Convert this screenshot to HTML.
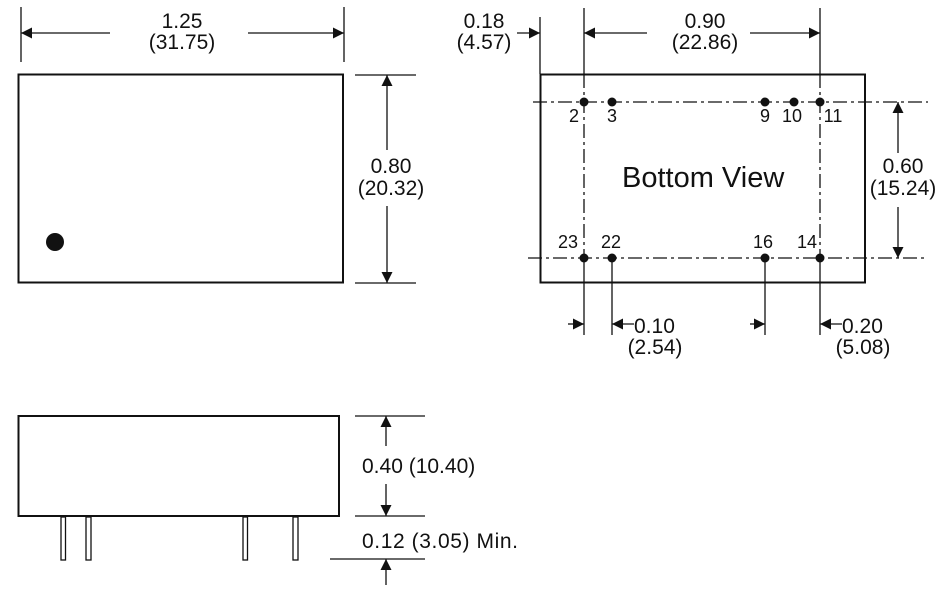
<!DOCTYPE html>
<html><head><style>
body{margin:0;background:#fff;}
svg{display:block;}
text{font-family:"Liberation Sans",Arial,sans-serif;fill:#111;}
</style></head><body>
<svg width="945" height="595" viewBox="0 0 945 595" xmlns="http://www.w3.org/2000/svg">
<defs>
<marker id="a" viewBox="0 0 10 10" refX="10" refY="5" markerWidth="13" markerHeight="11" markerUnits="userSpaceOnUse" orient="auto"><path d="M0,0L10,5L0,10z" fill="#111"/></marker>
</defs>
<g stroke="#111" stroke-width="1.3" fill="none">
<rect x="18.5" y="74.5" width="324.5" height="208" stroke-width="2"/>
<line x1="21" y1="7" x2="21" y2="62"/><line x1="344" y1="7" x2="344" y2="62"/>
<line x1="110" y1="33" x2="21" y2="33" marker-end="url(#a)"/>
<line x1="248" y1="33" x2="344" y2="33" marker-end="url(#a)"/>
<line x1="355" y1="75" x2="416" y2="75"/><line x1="355" y1="283" x2="416" y2="283"/>
<line x1="387" y1="150" x2="387" y2="75" marker-end="url(#a)"/>
<line x1="387" y1="206" x2="387" y2="283" marker-end="url(#a)"/>
<rect x="540.5" y="74.5" width="324.5" height="208" stroke-width="2"/>
<line x1="540" y1="17" x2="540" y2="74"/>
<line x1="517" y1="33" x2="540" y2="33" marker-end="url(#a)"/>
<line x1="584" y1="8" x2="584" y2="74"/><line x1="820" y1="8" x2="820" y2="74"/>
<line x1="647" y1="33" x2="584" y2="33" marker-end="url(#a)"/>
<line x1="750" y1="33" x2="820" y2="33" marker-end="url(#a)"/>
<g stroke-dasharray="14,4,3,4">
<line x1="533" y1="102" x2="928" y2="102"/>
<line x1="528" y1="258" x2="928" y2="258"/>
<line x1="584" y1="74" x2="584" y2="258"/>
<line x1="820" y1="74" x2="820" y2="258"/>
</g>
<line x1="584" y1="258" x2="584" y2="335"/><line x1="612" y1="258" x2="612" y2="335"/>
<line x1="765" y1="258" x2="765" y2="335"/><line x1="820" y1="258" x2="820" y2="335"/>
<line x1="898" y1="153" x2="898" y2="102" marker-end="url(#a)"/>
<line x1="898" y1="207" x2="898" y2="258" marker-end="url(#a)"/>
<line x1="568" y1="324" x2="584" y2="324" marker-end="url(#a)"/>
<line x1="634" y1="324" x2="612" y2="324" marker-end="url(#a)"/>
<line x1="750" y1="324" x2="765" y2="324" marker-end="url(#a)"/>
<line x1="842" y1="324" x2="820" y2="324" marker-end="url(#a)"/>
<rect x="18.5" y="416" width="320.5" height="100" stroke-width="2"/>
<rect x="61" y="517" width="4.5" height="43"/><rect x="86" y="517" width="5" height="43"/>
<rect x="243" y="517" width="4.5" height="43"/><rect x="293" y="517" width="5" height="43"/>
<line x1="355" y1="416" x2="425" y2="416"/><line x1="355" y1="516" x2="425" y2="516"/>
<line x1="330" y1="559" x2="425" y2="559"/>
<line x1="386" y1="446" x2="386" y2="416" marker-end="url(#a)"/>
<line x1="386" y1="484" x2="386" y2="516" marker-end="url(#a)"/>
<line x1="386" y1="585" x2="386" y2="559" marker-end="url(#a)"/>
</g>
<circle cx="55" cy="242" r="9" fill="#111"/>
<g fill="#111">
<circle cx="584" cy="102" r="4.5"/><circle cx="612" cy="102" r="4.5"/><circle cx="765" cy="102" r="4.5"/><circle cx="794" cy="102" r="4.5"/><circle cx="820" cy="102" r="4.5"/>
<circle cx="584" cy="258" r="4.5"/><circle cx="612" cy="258" r="4.5"/><circle cx="765" cy="258" r="4.5"/><circle cx="820" cy="258" r="4.5"/>
</g>
<g font-size="21" text-anchor="middle">
<text x="182" y="28">1.25</text><text x="182" y="49">(31.75)</text>
<text x="391" y="173">0.80</text><text x="391" y="195">(20.32)</text>
<text x="484" y="28">0.18</text><text x="484" y="49">(4.57)</text>
<text x="705" y="28">0.90</text><text x="705" y="49">(22.86)</text>
<text x="903" y="173">0.60</text><text x="903" y="195">(15.24)</text>
<text x="655" y="354">(2.54)</text><text x="863" y="354">(5.08)</text>
</g>
<g font-size="21">
<text x="634" y="333">0.10</text><text x="842" y="333">0.20</text>
<text x="362" y="473">0.40 (10.40)</text>
<text x="362" y="548" textLength="156">0.12 (3.05) Min.</text>
</g>
<text x="622" y="187" font-size="29">Bottom View</text>
<g font-size="18" text-anchor="middle">
<text x="574" y="122">2</text><text x="612" y="122">3</text><text x="765" y="122">9</text><text x="792" y="122">10</text><text x="833" y="122">11</text>
<text x="568" y="248">23</text><text x="611" y="248">22</text><text x="763" y="248">16</text><text x="807" y="248">14</text>
</g>
</svg>
</body></html>
